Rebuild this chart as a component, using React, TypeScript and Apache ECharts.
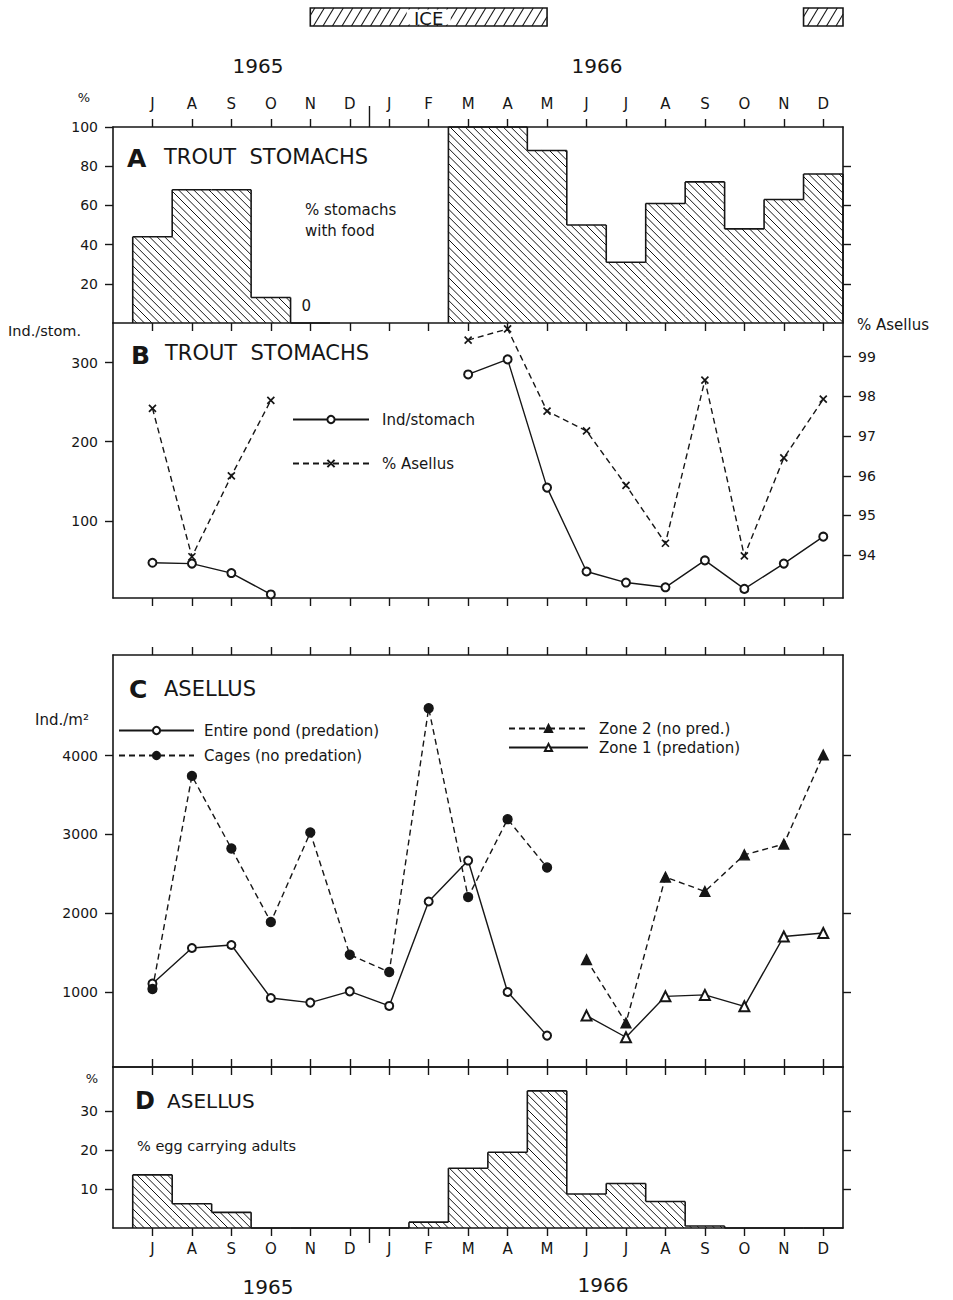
import React, { useEffect, useRef } from 'react';
import * as echarts from 'echarts';

// ---------- data ----------
const monthLabels = ['J', 'A', 'S', 'O', 'N', 'D', 'J', 'F', 'M', 'A', 'M', 'J', 'J', 'A', 'S', 'O', 'N', 'D'];
const yearLabels = ['1965', '1966'];
const yearBoundary = 5.5; // between Dec 1965 and Jan 1966
const iceStart = [4.0, 16.5];
const iceEnd = [10.0, 17.5];

// A: % stomachs with food
const stomachsWithFood: (number | null)[] = [44, 68, 68, 13, 0, null, null, null, 100, 100, 88, 50, 31, 61, 72, 48, 63, 76];
// B: individuals per stomach and % Asellus
const indPerStomach: (number | null)[] = [47, 46, 34, 7, null, null, null, null, 285, 304, 142, 36, 22, 16, 50, 14, 46, 80];
const asellusPct: (number | null)[] = [97.7, 93.96, 96.0, 97.9, null, null, null, null, 99.42, 99.7, 97.63, 97.13, 95.76, 94.3, 98.41, 93.98, 96.45, 97.93];
// C: Asellus density, Ind./m2
const entirePond: (number | null)[] = [1104, 1557, 1595, 922, 863, 1006, 821, 2148, 2668, 998, 444, null, null, null, null, null, null, null];
const cages: (number | null)[] = [1036, 3744, 2821, 1887, 3024, 1472, 1252, 4603, 2204, 3194, 2580, null, null, null, null, null, null, null];
const zone2: (number | null)[] = [null, null, null, null, null, null, null, null, null, null, null, 1409, 605, 2458, 2276, 2741, 2877, 4010];
const zone1: (number | null)[] = [null, null, null, null, null, null, null, null, null, null, null, 698, 423, 943, 961, 816, 1704, 1747];
// D: % egg carrying adults
const eggCarrying: (number | null)[] = [13.6, 6.2, 4.0, 0, 0, 0, 0, 1.5, 15.3, 19.4, 35.1, 8.7, 11.4, 6.8, 0.5, 0, 0, 0];

const ticksA = [20, 40, 60, 80, 100];
const ticksARight = [20, 40, 60, 80];
const ticksBLeft = [100, 200, 300];
const ticksBRight = [94, 95, 96, 97, 98, 99];
const ticksC = [1000, 2000, 3000, 4000];
const ticksD = [10, 20, 30];

// ---------- helpers ----------
const FONT = 'DejaVu Sans';
const INK = '#161616';
const monthTicks = monthLabels.map((_, i) => i);

const seg = (x1: number, y1: number, x2: number, y2: number, w = 1.5) => ({
  type: 'line', shape: { x1, y1, x2, y2 }, style: { stroke: INK, lineWidth: w }, silent: true,
});

function hatch(out: any[], x0: number, x1: number, y0: number, y1: number, m: number, sp: number, lw: number) {
  const H = y1 - y0;
  if (H <= 0.5 || x1 - x0 <= 0.5) return;
  const lo = Math.min(x0, x0 - m * H);
  const hi = Math.max(x1, x1 - m * H);
  for (let k = Math.floor(lo / sp) - 1; k <= Math.ceil(hi / sp) + 1; k++) {
    const bx = k * sp;
    let ta = (x0 - bx) / m;
    let tb = (x1 - bx) / m;
    if (ta > tb) { const t = ta; ta = tb; tb = t; }
    ta = Math.max(0, ta);
    tb = Math.min(H, tb);
    if (tb - ta > 0.3) out.push(seg(bx + m * ta, y1 - ta, bx + m * tb, y1 - tb, lw));
  }
}

function histRender(vals: (number | null)[], zeroLabel: boolean) {
  return (params: any, api: any) => {
    const i = params.dataIndex;
    const v = vals[i];
    if (v == null) return null;
    const prev = i > 0 ? vals[i - 1] : null;
    const next = i < vals.length - 1 ? vals[i + 1] : null;
    const pL = api.coord([i - 0.5, v]);
    const pR = api.coord([i + 0.5, 0]);
    const xL = pL[0], yTop = pL[1], xR = pR[0], yBase = pR[1];
    const children: any[] = [];
    hatch(children, xL, xR, yTop, yBase, -1, 7.6, 1.0);
    children.push(seg(xL, yTop, xR, yTop, 1.6));
    const yPrev = prev == null ? yBase : api.coord([i, prev])[1];
    if (Math.abs(yPrev - yTop) > 0.1) children.push(seg(xL, yPrev, xL, yTop, 1.6));
    if (next == null) children.push(seg(xR, yTop, xR, yBase, 1.6));
    if (v === 0 && zeroLabel) {
      children.push({
        type: 'text', x: (xL + xR) / 2 - 4, y: yBase - 17,
        style: { text: '0', font: `15px "${FONT}"`, fill: INK, textAlign: 'center', textVerticalAlign: 'middle', align: 'center', verticalAlign: 'middle' },
        silent: true,
      });
    }
    return { type: 'group', children };
  };
}

function iceRender(params: any, api: any) {
  const s = api.value(0), e = api.value(1);
  const p0 = api.coord([s, 1]);
  const p1 = api.coord([e, 0]);
  const x0 = p0[0], y0 = p0[1], x1 = p1[0], y1 = p1[1];
  const children: any[] = [
    { type: 'rect', shape: { x: x0, y: y0, width: x1 - x0, height: y1 - y0 }, style: { fill: '#fff', stroke: 'none' }, silent: true },
  ];
  hatch(children, x0, x1, y0, y1, 0.6, 9.5, 1.1);
  children.push({ type: 'rect', shape: { x: x0, y: y0, width: x1 - x0, height: y1 - y0 }, style: { fill: 'none', stroke: INK, lineWidth: 1.6 }, silent: true });
  if (params.dataIndex === 0) {
    const cx = (x0 + x1) / 2;
    children.push({ type: 'rect', shape: { x: cx - 22, y: y0 + 1.5, width: 44, height: y1 - y0 - 3 }, style: { fill: '#fff', stroke: 'none' }, silent: true });
    children.push({
      type: 'text', x: cx, y: (y0 + y1) / 2 + 1,
      style: { text: 'ICE', font: `18px "${FONT}"`, fill: INK, textAlign: 'center', textVerticalAlign: 'middle', align: 'center', verticalAlign: 'middle' },
      silent: true,
    });
  }
  return { type: 'group', children };
}

function separatorRender(dir: number, len: number) {
  return (params: any, api: any) => {
    const pt = api.coord([api.value(0), api.value(1)]);
    return seg(pt[0], pt[1], pt[0], pt[1] + dir * len, 1.4);
  };
}

const axisLineStyle = { color: INK, width: 1.6 };
const tickLineStyle = { color: INK, width: 1.4 };
const labelStyle = { fontSize: 14, fontFamily: FONT, color: INK };

function xAx(gridIndex: number, position: string, labels: boolean, margin = 14) {
  return {
    type: 'value', gridIndex, position, min: -1, max: 17.5,
    axisLine: { show: true, onZero: false, lineStyle: axisLineStyle },
    axisTick: { show: true, inside: false, length: 8, customValues: monthTicks, lineStyle: tickLineStyle },
    axisLabel: {
      show: labels, customValues: monthTicks, margin,
      formatter: (v: number) => monthLabels[Math.round(v)] ?? '',
      ...labelStyle, fontSize: 15,
    },
    splitLine: { show: false },
  };
}

function yAx(gridIndex: number, position: string, min: number, max: number, ticks: number[], labels: boolean) {
  return {
    type: 'value', gridIndex, position, min, max,
    axisLine: { show: true, onZero: false, lineStyle: axisLineStyle },
    axisTick: { show: ticks.length > 0, inside: false, length: 8, customValues: ticks, lineStyle: tickLineStyle },
    axisLabel: { show: labels, customValues: ticks, margin: 15, formatter: (v: number) => String(v), ...labelStyle },
    splitLine: { show: false },
  };
}

const txt = (text: string, x: number, y: number, size: number, align = 'left', weight = 'normal') => ({
  type: 'text', x, y, silent: true,
  style: {
    text, font: `${weight} ${size}px "${FONT}"`, fill: INK,
    textAlign: align, textVerticalAlign: 'middle', align, verticalAlign: 'middle',
  },
});

const toXY = (vals: (number | null)[]) => vals.map((v, i) => [i, v == null ? '-' : v]);

const lineBase = (name: string, x: number, y: number, vals: (number | null)[], dashed: boolean, symbol: string, size: number) => ({
  type: 'line', name, xAxisIndex: x, yAxisIndex: y, data: toXY(vals),
  connectNulls: false, symbol, symbolSize: size,
  lineStyle: { color: INK, width: 1.4, type: dashed ? [6, 4] : 'solid' },
  itemStyle: { color: INK, borderColor: INK, borderWidth: symbol.startsWith('path') ? 1.7 : 1.3 },
  emphasis: { disabled: true },
});

const X_SYMBOL = 'path://M0,0L10,10M10,0L0,10';

export default function App() {
  const ref = useRef<HTMLDivElement>(null);
  useEffect(() => {
    if (!ref.current) return;
    const chart = echarts.init(ref.current, null, { renderer: 'svg' });
    const gridBase = { left: 113, right: 110, containLabel: false, outerBoundsMode: 'none' };
    const option: any = {
      animation: false,
      backgroundColor: '#fff',
      textStyle: { fontFamily: FONT },
      grid: [
        { ...gridBase, top: 8, height: 18 },
        { ...gridBase, top: 127, height: 196 },
        { ...gridBase, top: 323, height: 275 },
        { ...gridBase, top: 655, height: 412 },
        { ...gridBase, top: 1067, height: 161 },
      ],
      xAxis: [
        { type: 'value', gridIndex: 0, min: -1, max: 17.5, show: false },
        xAx(1, 'top', true, 16),
        xAx(1, 'bottom', false),
        xAx(2, 'bottom', false),
        xAx(3, 'top', false),
        xAx(3, 'bottom', false),
        xAx(4, 'top', false),
        xAx(4, 'bottom', true, 13),
      ],
      yAxis: [
        { type: 'value', gridIndex: 0, min: 0, max: 1, show: false },
        yAx(1, 'left', 0, 100, ticksA, true),
        yAx(1, 'right', 0, 100, ticksARight, false),
        yAx(2, 'left', 2.5, 350, ticksBLeft, true),
        yAx(2, 'right', 92.92, 99.85, ticksBRight, true),
        yAx(3, 'left', 45, 5280, ticksC, true),
        yAx(3, 'right', 45, 5280, ticksC, false),
        yAx(4, 'left', 0, 41.2, ticksD, true),
        yAx(4, 'right', 0, 41.2, ticksD, false),
      ],
      legend: [
        {
          data: ['Ind/stomach', '% Asellus'], orient: 'vertical', left: 292, top: 412, padding: 0,
          itemWidth: 76, itemHeight: 9, itemGap: 29, selectedMode: false,
          textStyle: { fontSize: 15, fontFamily: FONT, color: INK, padding: [0, 0, 0, 8] },
        },
        {
          data: ['Entire pond (predation)', 'Cages (no predation)'], orient: 'vertical', left: 118, top: 723, padding: 0,
          itemWidth: 75, itemHeight: 9, itemGap: 10, selectedMode: false,
          textStyle: { fontSize: 15, fontFamily: FONT, color: INK, padding: [0, 0, 0, 5] },
        },
        {
          data: ['Zone 2 (no pred.)', 'Zone 1 (predation)'], orient: 'vertical', left: 508, top: 721, padding: 0,
          itemWidth: 79, itemHeight: 9, itemGap: 4, selectedMode: false,
          textStyle: { fontSize: 15, fontFamily: FONT, color: INK, padding: [0, 0, 0, 6] },
        },
      ],
      series: [
        { type: 'custom', name: 'ice', xAxisIndex: 0, yAxisIndex: 0, clip: false, silent: true,
          data: iceStart.map((s, i) => [s, iceEnd[i]]), renderItem: iceRender },
        { type: 'custom', name: 'A', xAxisIndex: 1, yAxisIndex: 1, clip: false, silent: true,
          data: stomachsWithFood.map((v, i) => [i, v == null ? 0 : v]), renderItem: histRender(stomachsWithFood, true) },
        { type: 'custom', name: 'sepTop', xAxisIndex: 1, yAxisIndex: 1, clip: false, silent: true,
          data: [[yearBoundary, 100]], renderItem: separatorRender(-1, 21) },
        { type: 'custom', name: 'D', xAxisIndex: 7, yAxisIndex: 7, clip: false, silent: true,
          data: eggCarrying.map((v, i) => [i, v == null ? 0 : v]), renderItem: histRender(eggCarrying, false) },
        { type: 'custom', name: 'sepBottom', xAxisIndex: 7, yAxisIndex: 7, clip: false, silent: true,
          data: [[yearBoundary, 0]], renderItem: separatorRender(1, 15) },
        lineBase('Ind/stomach', 3, 3, indPerStomach, false, 'emptyCircle', 8),
        lineBase('% Asellus', 3, 4, asellusPct, true, X_SYMBOL, 7),
        lineBase('Entire pond (predation)', 5, 5, entirePond, false, 'emptyCircle', 8),
        lineBase('Cages (no predation)', 5, 5, cages, true, 'circle', 9),
        lineBase('Zone 2 (no pred.)', 5, 5, zone2, true, 'triangle', 10),
        lineBase('Zone 1 (predation)', 5, 5, zone1, false, 'emptyTriangle', 10),
      ],
      graphic: [
        txt(yearLabels[0], 258, 66, 20, 'center'),
        txt(yearLabels[1], 597, 66, 20, 'center'),
        txt(yearLabels[0], 268, 1287, 20, 'center'),
        txt(yearLabels[1], 603, 1285, 20, 'center'),
        txt('%', 84, 97, 13, 'center'),
        txt('A', 127, 158, 25, 'left', 'bold'),
        txt('TROUT  STOMACHS', 164, 157, 21),
        txt('% stomachs', 305, 210, 15),
        txt('with food', 305, 231, 15),
        txt('Ind./stom.', 8, 331, 14.5),
        txt('B', 131, 355, 25, 'left', 'bold'),
        txt('TROUT  STOMACHS', 165, 353, 21),
        txt('% Asellus', 857, 325, 15),
        txt('C', 129, 689, 25, 'left', 'bold'),
        txt('ASELLUS', 164, 689, 21),
        txt('Ind./m²', 35, 720, 15),
        txt('%', 92, 1078, 13, 'center'),
        txt('D', 135, 1101, 24, 'left', 'bold'),
        txt('ASELLUS', 167, 1101, 20),
        txt('% egg carrying adults', 137, 1146, 14.5),
      ],
    };
    chart.setOption(option);
    return () => chart.dispose();
  }, []);
  return <div ref={ref} style={{ position: 'absolute', left: 0, top: 0, width: 953, height: 1300, background: '#fff' }} />;
}
